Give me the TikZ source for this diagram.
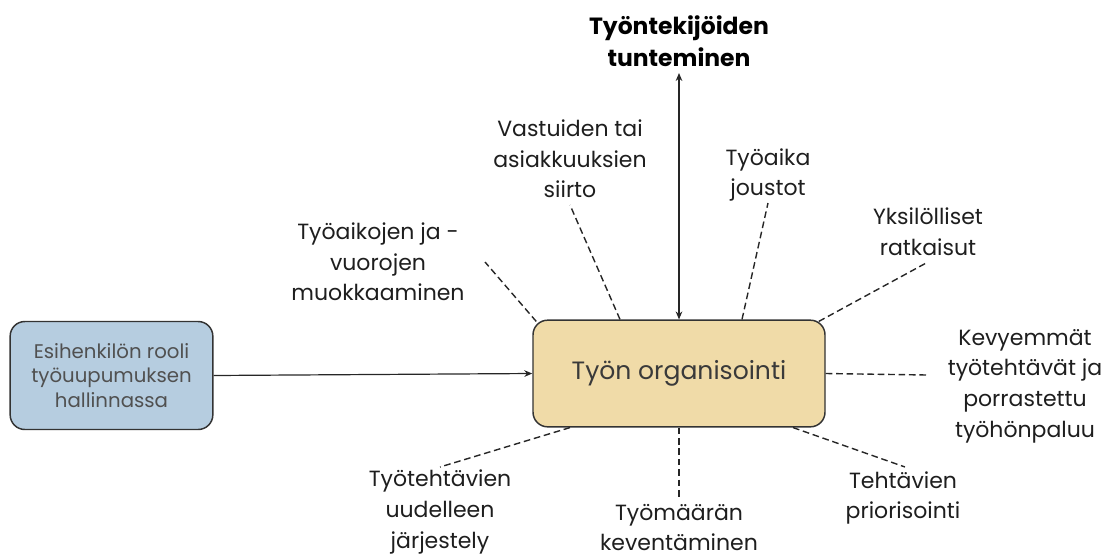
\documentclass[tikz,border=0pt]{standalone}
\usepackage{fontspec}
\setmainfont{Poppins}
\usetikzlibrary{arrows.meta}
\definecolor{boxblue}{HTML}{B6CDE0}
\definecolor{boxsand}{HTML}{F0DBA8}
\definecolor{edgegray}{HTML}{333333}
\definecolor{labelink}{HTML}{1E1E1E}
\definecolor{rootink}{HTML}{505050}
\definecolor{orgink}{HTML}{3A3A3A}
\begin{document}
\begin{tikzpicture}[x=0.75pt,y=-0.75pt,
  rootbox/.style={draw=edgegray, line width=1.1pt, rounded corners=11pt, fill=boxblue,
    minimum width=152pt, minimum height=81pt, align=center, text=rootink,
    font=\fontsize{14.8}{18.5}\selectfont},
  orgbox/.style={draw=edgegray, line width=1.1pt, rounded corners=11pt, fill=boxsand,
    minimum width=219pt, minimum height=80pt, text=orgink,
    font=\fontsize{18.8}{24}\selectfont},
  topic/.style={align=center, text=labelink, font=\fontsize{16.5}{23}\selectfont, inner sep=0pt},
  headline/.style={align=center, text=black, font=\bfseries\fontsize{17.6}{24}\selectfont, inner sep=0pt},
  link/.style={draw=black!85, line width=1.05pt, dash pattern=on 5pt off 2.8pt},
  flow/.style={draw=black!85, line width=0.9pt, -{Stealth[length=6pt,width=5pt]}},
  twoway/.style={draw=black!85, line width=0.9pt, {Stealth[length=6pt,width=5pt]}-{Stealth[length=6pt,width=5pt]}}
]
\useasboundingbox (0,0) rectangle (1112,557);

% main boxes
\node[rootbox] (root) at (111.5,375.5) {Esihenkilön rooli\\työuupumuksen\\hallinnassa};
\node[orgbox] (org) at (679,373.5) {Työn organisointi};

% labels around the central box
\node[headline] (know) at (679,41) {Työntekijöiden\\tunteminen};
\node[topic] (shifts) at (378,262) {Työaikojen ja -\\vuorojen\\muokkaaminen};
\node[topic] (resp) at (570,159) {Vastuiden tai\\asiakkuuksien\\siirto};
\node[topic] (flex) at (768,175) {Työaika\\joustot};
\node[topic] (indiv) at (928,232) {Yksilölliset\\ratkaisut};
\node[topic] (light) at (1025,386) {Kevyemmät\\työtehtävät ja\\porrastettu\\työhönpaluu};
\node[topic] (prio) at (903,498) {Tehtävien\\priorisointi};
\node[topic] (load) at (679,527.5) {Työmäärän\\keventäminen};
\node[topic] (reorg) at (440,512) {Työtehtävien\\uudelleen\\järjestely};

% free ends of the connectors
\coordinate (kE) at (679,73);
\coordinate (sE) at (485,262);
\coordinate (rE) at (570,205);
\coordinate (fE) at (768,203);
\coordinate (iE) at (928,262);
\coordinate (lE) at (927,375);
\coordinate (pE) at (905,467);
\coordinate (mE) at (679,500);
\coordinate (oE) at (440,467);

% connectors
\draw[flow] (root.east) -- (org.west);
\draw[twoway] (org.north) -- (kE);
\draw[link] ([shift={(4,2)}]org.north west) -- (sE);
\draw[link] ([shift={(-59,0)}]org.north) -- (rE);
\draw[link] ([shift={(63,0)}]org.north) -- (fE);
\draw[link] ([shift={(-7,2)}]org.north east) -- (iE);
\draw[link] (org.east) -- (lE);
\draw[link] ([shift={(114,0)}]org.south) -- (pE);
\draw[link] (org.south) -- (mE);
\draw[link] ([shift={(-109,0)}]org.south) -- (oE);
\end{tikzpicture}
\end{document}
